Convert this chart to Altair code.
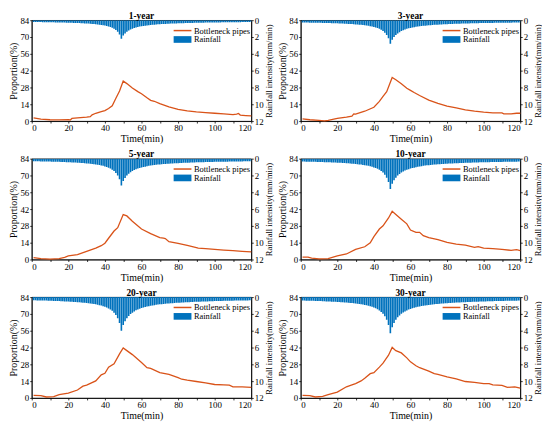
import altair as alt
import pandas as pd

FONT = "Liberation Serif"
TIME = list(range(1, 121))

# Rainfall intensity (mm/min), one bar per minute
RAIN_1 = [0.21,0.21,0.22,0.22,0.22,0.23,0.23,0.23,0.24,0.24,
          0.25,0.25,0.26,0.26,0.26,0.27,0.28,0.28,0.29,0.29,
          0.30,0.31,0.32,0.32,0.33,0.34,0.35,0.37,0.38,0.39,
          0.40,0.42,0.44,0.46,0.48,0.50,0.53,0.56,0.59,0.63,
          0.68,0.74,0.81,0.90,1.02,1.17,1.38,1.69,2.20,
          1.83,1.57,1.38,1.23,1.11,1.02,0.94,0.87,0.81,0.76,
          0.72,0.68,0.65,0.62,0.59,0.57,0.55,0.53,0.51,0.49,
          0.48,0.46,0.45,0.44,0.42,0.42,0.40,0.40,0.39,0.38,
          0.37,0.36,0.35,0.35,0.34,0.33,0.33,0.32,0.32,0.31,
          0.31,0.30,0.29,0.29,0.29,0.28,0.28,0.28,0.27,0.27,
          0.26,0.26,0.26,0.26,0.25,0.25,0.25,0.24,0.24,0.24,
          0.24,0.23,0.23,0.23,0.23,0.22,0.22,0.22,0.22,0.22,0.21]
RAIN_3 = [0.27,0.27,0.28,0.28,0.29,0.29,0.29,0.30,0.30,0.31,
          0.31,0.32,0.32,0.33,0.34,0.34,0.35,0.36,0.36,0.37,
          0.38,0.39,0.40,0.41,0.42,0.44,0.45,0.46,0.48,0.50,
          0.52,0.53,0.55,0.58,0.60,0.64,0.67,0.71,0.75,0.81,
          0.87,0.94,1.03,1.15,1.29,1.49,1.76,2.16,2.80,
          2.33,2.00,1.76,1.57,1.42,1.29,1.19,1.11,1.03,0.97,
          0.92,0.87,0.83,0.79,0.75,0.73,0.70,0.67,0.65,0.62,
          0.60,0.59,0.57,0.55,0.54,0.53,0.52,0.50,0.49,0.48,
          0.47,0.46,0.45,0.44,0.43,0.42,0.42,0.41,0.40,0.39,
          0.39,0.38,0.38,0.37,0.36,0.36,0.36,0.35,0.34,0.34,
          0.34,0.33,0.33,0.32,0.32,0.32,0.31,0.31,0.31,0.31,
          0.30,0.30,0.29,0.29,0.29,0.29,0.28,0.28,0.28,0.27,0.27]
RAIN_5 = [0.31,0.31,0.32,0.32,0.33,0.33,0.34,0.34,0.35,0.35,
          0.36,0.36,0.37,0.38,0.38,0.39,0.40,0.41,0.42,0.43,
          0.44,0.45,0.46,0.47,0.48,0.50,0.52,0.53,0.55,0.57,
          0.59,0.61,0.63,0.66,0.69,0.73,0.76,0.81,0.86,0.92,
          0.99,1.08,1.18,1.31,1.48,1.70,2.01,2.46,3.20,
          2.67,2.29,2.01,1.79,1.62,1.48,1.36,1.26,1.18,1.11,
          1.05,0.99,0.95,0.90,0.86,0.83,0.80,0.76,0.74,0.71,
          0.69,0.67,0.65,0.63,0.62,0.60,0.59,0.58,0.56,0.55,
          0.54,0.52,0.52,0.50,0.49,0.48,0.48,0.47,0.46,0.45,
          0.44,0.44,0.43,0.42,0.42,0.41,0.41,0.40,0.39,0.39,
          0.38,0.38,0.37,0.37,0.37,0.36,0.36,0.36,0.35,0.35,
          0.34,0.34,0.34,0.33,0.33,0.33,0.32,0.32,0.32,0.31,0.31]
RAIN_10 = [0.35,0.35,0.36,0.36,0.37,0.37,0.38,0.38,0.39,0.40,
           0.40,0.41,0.42,0.42,0.43,0.44,0.45,0.46,0.47,0.48,
           0.49,0.50,0.52,0.53,0.54,0.56,0.58,0.60,0.62,0.64,
           0.66,0.69,0.71,0.75,0.78,0.82,0.86,0.91,0.97,1.04,
           1.12,1.21,1.33,1.48,1.66,1.91,2.26,2.77,3.60,
           3.00,2.57,2.26,2.01,1.82,1.66,1.53,1.42,1.33,1.25,
           1.18,1.12,1.07,1.02,0.97,0.93,0.90,0.86,0.83,0.80,
           0.78,0.76,0.73,0.71,0.69,0.68,0.66,0.65,0.63,0.62,
           0.60,0.59,0.58,0.57,0.55,0.54,0.54,0.53,0.52,0.51,
           0.50,0.49,0.48,0.48,0.47,0.46,0.46,0.45,0.44,0.44,
           0.43,0.43,0.42,0.42,0.41,0.41,0.40,0.40,0.40,0.39,
           0.39,0.38,0.38,0.37,0.37,0.37,0.36,0.36,0.36,0.35,0.35]
RAIN_20 = [0.38,0.39,0.40,0.40,0.41,0.41,0.42,0.42,0.43,0.44,
           0.45,0.46,0.46,0.47,0.48,0.49,0.50,0.51,0.52,0.53,
           0.55,0.56,0.58,0.59,0.60,0.62,0.64,0.66,0.68,0.71,
           0.74,0.76,0.79,0.83,0.86,0.91,0.96,1.01,1.08,1.15,
           1.24,1.35,1.48,1.64,1.85,2.12,2.51,3.08,4.00,
           3.33,2.86,2.51,2.24,2.02,1.85,1.70,1.58,1.48,1.39,
           1.31,1.24,1.18,1.13,1.08,1.04,1.00,0.96,0.92,0.89,
           0.86,0.84,0.82,0.79,0.77,0.76,0.74,0.72,0.70,0.68,
           0.67,0.66,0.64,0.63,0.62,0.60,0.60,0.58,0.58,0.56,
           0.56,0.55,0.54,0.53,0.52,0.51,0.51,0.50,0.49,0.49,
           0.48,0.48,0.47,0.46,0.46,0.45,0.45,0.44,0.44,0.44,
           0.43,0.42,0.42,0.42,0.41,0.41,0.40,0.40,0.40,0.39,0.39]
RAIN_30 = [0.41,0.42,0.43,0.43,0.44,0.44,0.45,0.46,0.46,0.47,
           0.48,0.49,0.50,0.51,0.52,0.52,0.54,0.55,0.56,0.57,
           0.59,0.60,0.62,0.63,0.65,0.67,0.69,0.71,0.74,0.76,
           0.79,0.82,0.85,0.89,0.93,0.98,1.03,1.09,1.16,1.24,
           1.33,1.45,1.59,1.76,1.99,2.28,2.70,3.31,4.30,
           3.58,3.07,2.70,2.40,2.18,1.99,1.83,1.70,1.59,1.49,
           1.41,1.33,1.27,1.21,1.16,1.11,1.07,1.03,0.99,0.96,
           0.93,0.90,0.88,0.85,0.83,0.81,0.79,0.77,0.75,0.74,
           0.72,0.71,0.69,0.68,0.66,0.65,0.64,0.63,0.62,0.61,
           0.60,0.59,0.58,0.57,0.56,0.55,0.55,0.54,0.53,0.52,
           0.52,0.51,0.50,0.50,0.49,0.49,0.48,0.48,0.47,0.47,
           0.46,0.46,0.45,0.45,0.44,0.44,0.43,0.43,0.43,0.42,0.42]

# Proportion of bottleneck pipes (%)
LT_1 = [1,5,10,15,20,21,22,25,30,32,33,35,38,40,42,44,46,48,50,52,55,58,60,63,65,67,70,75,80,85,90,95,100,105,110,112,113,114,117,120]
LP_1 = [2.7,1.6,1.1,1.0,1.2,0.9,2.2,2.6,3.3,3.7,5.2,6.5,7.8,8.7,10.5,12.7,19.0,25.0,33.3,31.2,27.6,24.5,22.8,19.4,17.3,16.5,14.6,11.9,9.8,8.4,7.6,7.0,6.5,6.0,5.4,5.8,6.3,5.0,4.6,4.3]
LT_3 = [1,5,10,13,15,20,25,28,29,30,35,40,43,45,47,50,52,55,58,60,62,65,70,75,80,85,90,95,100,105,110,111,115,118,120]
LP_3 = [1.9,1.1,0.5,0.2,0.5,2.2,3.3,4.1,6.0,5.8,8.2,11.5,16.4,20.5,24.5,36.3,34.4,31.1,27.3,25.6,23.8,21.3,17.5,14.7,12.5,10.9,9.3,8.2,7.4,6.8,6.8,6.0,6.0,6.5,6.5]
LT_5 = [1,5,10,15,18,20,25,30,35,38,40,42,45,47,50,52,55,60,65,70,72,73,75,80,85,90,91,95,100,105,110,115,120]
LP_5 = [1.6,0.8,0.3,0.8,1.8,3.0,4.1,6.8,9.5,11.5,13.6,17.7,23.7,26.5,37.4,36.3,31.9,25.4,21.5,18.3,17.8,17.4,14.8,13.4,11.7,9.8,9.4,9.0,8.5,7.9,7.4,6.8,6.3]
LT_10 = [1,4,6,10,15,20,25,30,35,38,40,43,45,48,50,52,55,58,60,63,65,67,70,75,80,85,90,95,97,100,105,110,115,118,120]
LP_10 = [1.9,1.9,1.2,0.5,0.8,3.0,4.6,8.5,10.6,13.9,19.1,25.4,28.1,34.6,40.1,37.4,33.5,29.7,24.5,22.6,22.6,19.9,18.3,16.6,14.2,12.8,12.0,10.1,10.8,9.5,9.0,8.5,7.6,8.2,7.4]
LT_20 = [1,5,8,12,15,20,25,28,30,35,38,40,42,45,48,50,52,55,60,63,65,70,75,80,82,85,90,95,100,105,108,110,115,120]
LP_20 = [2.2,1.9,0.8,1.1,2.7,4.1,6.6,9.8,10.7,14.2,19.2,20.5,25.7,28.5,36.7,41.6,39.4,36.1,29.5,25.2,24.6,21.1,19.7,17.0,15.6,14.8,13.7,12.6,11.2,10.9,10.7,9.3,9.3,8.8]
LT_30 = [1,5,8,12,15,20,25,28,30,33,35,38,40,43,45,48,50,52,55,58,60,63,65,70,73,75,80,85,90,95,100,103,105,110,113,117,120]
LP_30 = [2.2,1.9,0.8,1.4,2.7,4.9,9.3,10.9,12.0,14.2,16.4,20.2,21.1,25.7,29.0,35.6,42.1,39.4,37.5,33.4,30.1,26.8,25.2,22.4,20.2,19.7,17.5,15.9,13.7,12.9,12.0,12.0,10.9,10.4,8.8,9.3,8.2]

TITLES = ["1-year", "3-year", "5-year", "10-year", "20-year", "30-year"]
LINE_T = [LT_1, LT_3, LT_5, LT_10, LT_20, LT_30]
LINE_P = [LP_1, LP_3, LP_5, LP_10, LP_20, LP_30]
RAINS = [RAIN_1, RAIN_3, RAIN_5, RAIN_10, RAIN_20, RAIN_30]

X_TICKS = list(range(0, 121, 10))
P_TICKS = [0, 14, 28, 42, 56, 70, 84]
R_TICKS = [0, 2, 4, 6, 8, 10, 12]

W, H = 222, 102
BLUE = "#0072BD"
ORANGE = "#D95319"
LEG_X = 147


def panel(title, lt, lp, rain):
    rdf = pd.DataFrame({"t": TIME, "r": rain, "s": "Rainfall"})
    ldf = pd.DataFrame({"t": lt, "p": lp, "s": "Bottleneck pipes"})
    xscale = alt.Scale(domain=[0, 120], nice=False, zero=False)
    xaxis = alt.Axis(values=X_TICKS, title="Time(min)")
    bars = (
        alt.Chart(rdf)
        .transform_calculate(x0="datum.t - 0.44", x1="datum.t + 0.44")
        .mark_bar(clip=True)
        .encode(
            x=alt.X("x0:Q", scale=xscale, axis=xaxis),
            x2="x1:Q",
            y=alt.Y("r:Q", scale=alt.Scale(domain=[0, 12], reverse=True, nice=False),
                    axis=alt.Axis(orient="right", values=R_TICKS,
                                  title="Rainfall intensity(mm/min)", titleFontSize=8.6,
                                  titleAngle=270, titleBaseline="top")),
            y2=alt.datum(0),
            fill=alt.Fill("s:N", scale=alt.Scale(domain=["Rainfall"], range=[BLUE]),
                          legend=alt.Legend(orient="none", legendX=LEG_X, legendY=14,
                                            title=None,
                                            symbolType="M-2,-0.75H2V0.75H-2Z",
                                            symbolSize=81, labelOffset=6, padding=0)),
        )
    )
    line = (
        alt.Chart(ldf)
        .mark_line(strokeWidth=1.3)
        .encode(
            x=alt.X("t:Q", scale=xscale, axis=xaxis),
            y=alt.Y("p:Q", scale=alt.Scale(domain=[0, 84], nice=False),
                    axis=alt.Axis(orient="left", values=P_TICKS, title="Proportion(%)")),
            color=alt.Color("s:N", scale=alt.Scale(domain=["Bottleneck pipes"], range=[ORANGE]),
                            legend=alt.Legend(orient="none", legendX=LEG_X, legendY=5,
                                              title=None,
                                              symbolType="M-2,0H2",
                                              symbolSize=81, labelOffset=6,
                                              symbolStrokeWidth=1.5, padding=0)),
        )
    )
    return (
        alt.layer(bars, line)
        .resolve_scale(y="independent")
        .properties(width=W, height=H,
                    title=alt.Title(title, fontSize=9.5, fontWeight="bold", font=FONT,
                                    offset=-4, color="black"))
    )


panels = [panel(TITLES[i], LINE_T[i], LINE_P[i], RAINS[i]) for i in range(6)]
rows = [
    alt.hconcat(panels[2 * k], panels[2 * k + 1], spacing=3)
    .resolve_scale(color="independent", fill="independent")
    .resolve_legend(color="independent", fill="independent")
    for k in range(3)
]

chart = (
    alt.vconcat(*rows, spacing=4)
    .resolve_scale(color="independent", fill="independent")
    .resolve_legend(color="independent", fill="independent")
    .properties(padding=0)
    .configure_view(stroke="black", strokeWidth=0.8)
    .configure_axis(
        labelFont=FONT, labelFontSize=9, labelColor="black",
        titleFont=FONT, titleFontSize=10, titleFontWeight="normal", titleColor="black",
        domainColor="black", domainWidth=0.8, tickColor="black", tickWidth=0.8,
        tickSize=2, labelPadding=1, titlePadding=1, grid=False,
    )
    .configure_legend(labelFont=FONT, labelFontSize=8.5, labelColor="black")
)

chart.save("out.html", embed_options={"renderer": "svg", "actions": False})
